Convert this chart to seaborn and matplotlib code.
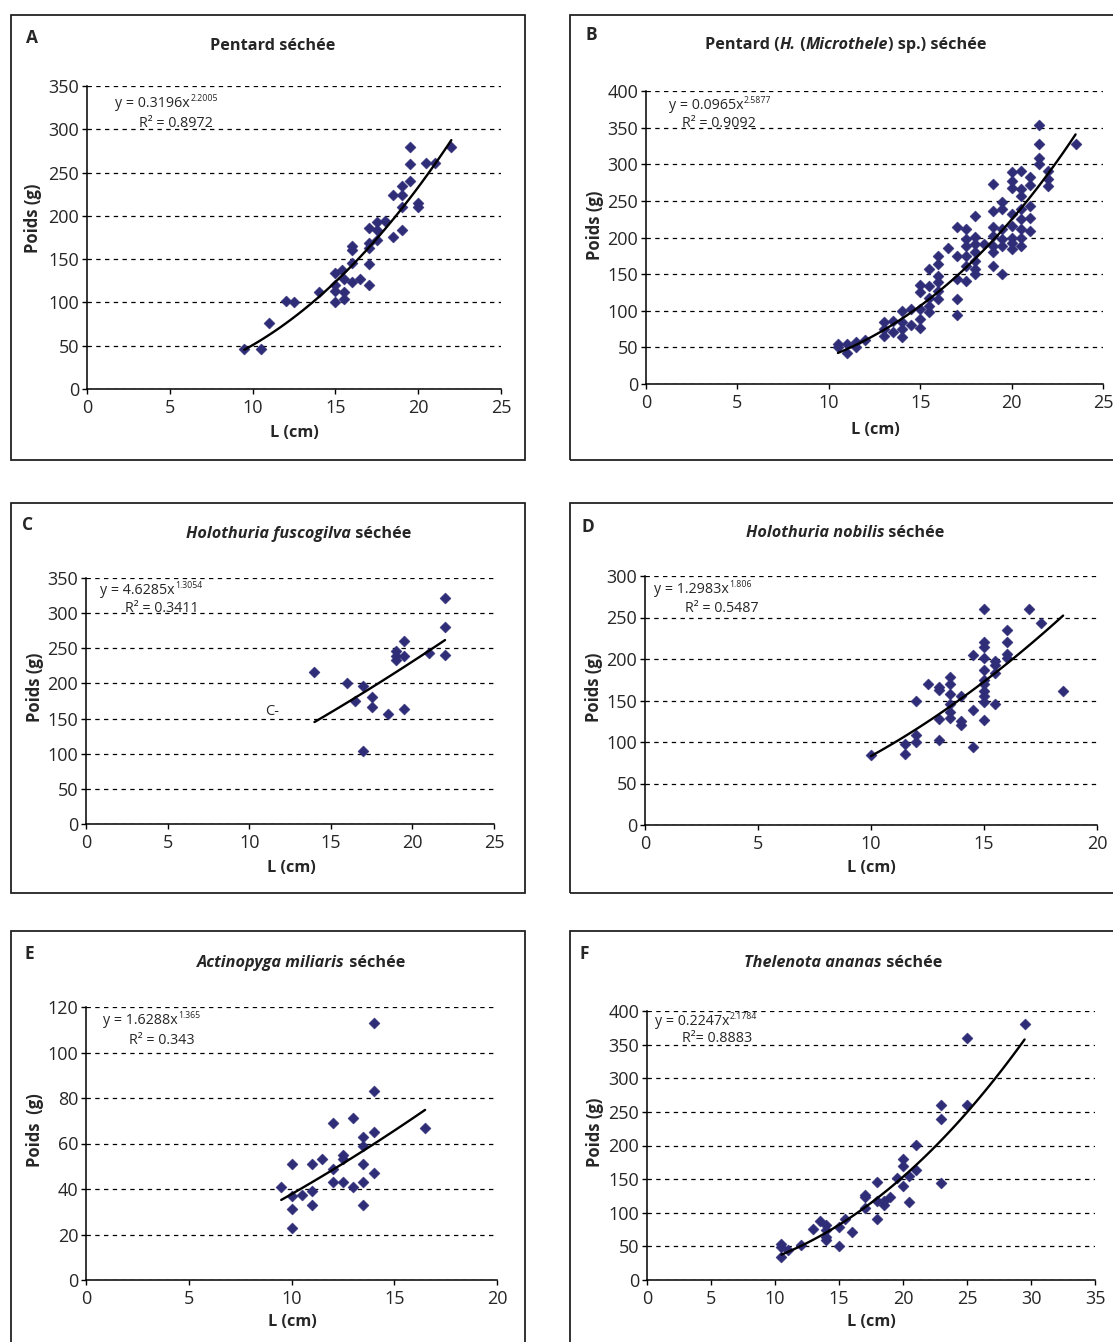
import numpy as np
import seaborn as sns
import matplotlib.pyplot as plt
from matplotlib.patches import Rectangle

# ---- data ----
a_x = [9.5, 10.5, 11, 12, 12.5, 14, 15, 15, 15, 15, 15.5, 15.5, 15.5, 15.4, 16, 16, 16, 16, 16.5,
       17, 17, 17, 17, 17, 17.5, 17.5, 17.5, 18, 18.5, 18.5, 19, 19, 19, 19, 19.5, 19.5, 19.5,
       20, 20, 20.5, 21, 22]
a_y = [46, 46, 76, 102, 100, 112, 100, 113, 120, 134, 104, 112, 127, 137, 124, 146, 161, 165, 127,
       120, 144, 163, 169, 186, 172, 184, 193, 194, 176, 224, 184, 210, 224, 235, 240, 260, 280,
       215, 210, 261, 261, 280]

b_x = [10.5, 10.5, 11, 11, 11.5, 11.5, 12, 13, 13, 13, 13.5, 13.5, 14, 14, 14, 14, 14.5, 14.5,
       15, 15, 15, 15, 15, 15.5, 15.5, 15.5, 15.5, 15.5, 16, 16, 16, 16, 16, 16, 16.5,
       17, 17, 17, 17, 17, 17.5, 17.5, 17.5, 17.5, 17.5, 17.5, 18, 18, 18, 18, 18, 18, 18, 18.5,
       19, 19, 19, 19, 19, 19, 19, 19.5, 19.5, 19.5, 19.5, 19.5, 19.5,
       20, 20, 20, 20, 20, 20, 20, 20, 20.5, 20.5, 20.5, 20.5, 20.5, 20.5, 20.5, 20.5,
       21, 21, 21, 21, 21, 21.5, 21.5, 21.5, 21.5, 22, 22, 22, 23.5]
b_y = [54, 50, 54, 43, 58, 50, 60, 84, 75, 65, 86, 71, 99, 84, 75, 64, 103, 80,
       135, 126, 102, 89, 77, 157, 134, 118, 107, 98, 175, 164, 148, 139, 127, 116, 186,
       215, 175, 143, 116, 94, 212, 198, 189, 175, 161, 141, 230, 201, 191, 180, 168, 157, 150, 191,
       273, 236, 214, 202, 189, 180, 161, 248, 239, 211, 198, 189, 150,
       289, 277, 268, 232, 216, 200, 193, 184, 291, 266, 257, 239, 225, 211, 200, 189,
       282, 271, 243, 227, 209, 353, 327, 309, 300, 291, 280, 270, 327]

c_x = [14, 16, 16.5, 17, 17, 17.5, 17.5, 18.5, 19, 19, 19, 19.5, 19.5, 19.5, 21, 22, 22, 22]
c_y = [216, 201, 175, 197, 104, 181, 166, 156, 246, 239, 234, 260, 239, 164, 243, 321, 280, 241]

d_x = [10, 11.5, 11.5, 12, 12, 12, 12.5, 13, 13, 13, 13, 13.5, 13.5, 13.5, 13.5, 13.5, 13.5,
       14, 14, 14, 14.5, 14.5, 14.5, 15, 15, 15, 15, 15, 15, 15, 15, 15, 15, 15,
       15.5, 15.5, 15.5, 15.5, 16, 16, 16, 16, 17, 17.5, 18.5]
d_y = [84, 98, 86, 150, 108, 100, 170, 166, 163, 128, 102, 178, 170, 158, 146, 136, 129,
       156, 125, 121, 205, 138, 94, 260, 221, 215, 201, 187, 175, 170, 162, 156, 148, 126,
       197, 193, 183, 146, 235, 220, 206, 201, 260, 243, 162]

e_x = [9.5, 10, 10, 10, 10, 10.5, 11, 11, 11, 11.5, 12, 12, 12, 12.5, 12.5, 12.5, 13, 13,
       13.5, 13.5, 13.5, 13.5, 13.5, 14, 14, 14, 14, 16.5]
e_y = [41, 51, 37, 31, 23, 37.5, 51, 39, 33, 53, 69, 49, 43, 55, 53, 43, 71, 41,
       63, 59, 51, 43, 33, 113, 83, 65, 47, 67]

f_x = [10.5, 10.5, 10.5, 11, 12, 13, 13.5, 14, 14, 14, 14, 15, 15, 15.5, 16, 17, 17, 17,
       18, 18, 18, 18.5, 18.5, 19, 19.5, 20, 20, 20, 20.5, 20.5, 21, 21, 23, 23, 23, 25, 25, 29.5]
f_y = [54, 49, 34, 44, 52, 76, 87, 82, 74, 64, 60, 79, 51, 91, 72, 127, 123, 107,
       146, 118, 90, 111, 118, 123, 151, 180, 170, 140, 155, 116, 201, 164, 260, 240, 144, 360, 260, 380]

# power fits printed on the charts: a, b, label of a, label of b, R² label
fits = {
    'A': (0.3196, 2.2005, '0.3196', '2.2005', 'R² = 0.8972'),
    'B': (0.0965, 2.5877, '0.0965', '2.5877', 'R² = 0.9092'),
    'C': (4.6285, 1.3054, '4.6285', '1.3054', 'R² = 0.3411'),
    'D': (1.2983, 1.806, '1.2983', '1.806', 'R² = 0.5487'),
    'E': (1.6288, 1.365, '1.6288', '1.365', 'R² = 0.343'),
    'F': (0.2247, 2.1784, '0.2247', '2.1784', 'R²= 0.8883'),
}

titles = {
    'A': [('Pentard séchée', 'normal')],
    'B': [('Pentard (', 'normal'), ('H.', 'italic'), (' (', 'normal'),
          ('Microthele', 'italic'), (') sp.) séchée', 'normal')],
    'C': [('Holothuria fuscogilva', 'italic'), (' séchée', 'normal')],
    'D': [('Holothuria nobilis', 'italic'), (' séchée', 'normal')],
    'E': [('Actinopyga miliaris', 'italic'), (' séchée', 'normal')],
    'F': [('Thelenota ananas', 'italic'), (' séchée', 'normal')],
}

data = {'A': (a_x, a_y), 'B': (b_x, b_y), 'C': (c_x, c_y),
        'D': (d_x, d_y), 'E': (e_x, e_y), 'F': (f_x, f_y)}

# ---- layout (pixels of the 1113x1342 picture) ----
W, H = 1113, 1342
layout = {
    'A': dict(ax=(87, 501, 86, 389), lim=(25, 350, 50), box=(11, 15, 525, 460), title=(273, 46),
              letter=(32, 38), eq=(115, 107), r2=(139, 127), yl=(33, 218), xl=(294, 433)),
    'B': dict(ax=(646, 1103, 91, 384), lim=(25, 400, 50), box=(570, 15, 1125, 460), title=(846, 45),
              letter=(591, 35), eq=(669, 109), r2=(682, 127), yl=(595, 225), xl=(875, 430)),
    'C': dict(ax=(86, 494, 578, 824), lim=(25, 350, 50), box=(11, 503, 525, 893), title=(299, 534),
              letter=(28, 525), eq=(100, 594), r2=(125, 612), yl=(35, 687), xl=(291, 868)),
    'D': dict(ax=(645, 1097, 576, 825), lim=(20, 300, 50), box=(570, 503, 1125, 893), title=(845, 533),
              letter=(588, 527), eq=(654, 593), r2=(685, 612), yl=(594, 687), xl=(871, 868)),
    'E': dict(ax=(86, 497, 1007, 1280), lim=(20, 120, 20), box=(11, 931, 525, 1350), title=(301, 963),
              letter=(29, 954), eq=(103, 1024), r2=(129, 1044), yl=(35, 1130), xl=(292, 1322)),
    'F': dict(ax=(647, 1095, 1011, 1280), lim=(35, 400, 50), box=(570, 931, 1125, 1350), title=(843, 963),
              letter=(584, 954), eq=(655, 1025), r2=(682, 1042), yl=(595, 1132), xl=(871, 1322)),
}

sns.set_theme(style='white')
plt.rcParams['font.family'] = ['Open Sans', 'DejaVu Sans']

fig = plt.figure(figsize=(W / 100, H / 100), dpi=100)
fig.patch.set_facecolor('white')
renderer = fig.canvas.get_renderer()


def fx(x):
    return x / W


def fy(y):
    return 1 - y / H


marker_col = '#2f2d78'
eq_size = 10.3

for key, lay in layout.items():
    l, r, t, b = lay['ax']
    ax = fig.add_axes([fx(l), fy(b), (r - l) / W, (b - t) / H])
    xmax, ymax, ystep = lay['lim']
    xs, ys = data[key]
    sns.scatterplot(x=xs, y=ys, ax=ax, marker='D', s=32, color=marker_col,
                    edgecolor=marker_col, linewidth=0.3, zorder=3)
    a, bexp, a_txt, b_txt, r2_txt = fits[key]
    xl = np.linspace(min(xs), max(xs), 100)
    sns.lineplot(x=xl, y=a * xl ** bexp, ax=ax, color='black', linewidth=1.7, zorder=4,
                 errorbar=None, sort=False)
    ax.set_xlim(0, xmax)
    ax.set_ylim(0, ymax)
    ax.set_xticks(np.arange(0, xmax + 1, 5))
    ax.set_yticks(np.arange(0, ymax + 1, ystep))
    ax.set_facecolor('none')
    ax.yaxis.grid(True, linestyle=(0, (3.5, 3.5)), color='black', linewidth=0.9)
    ax.xaxis.grid(False)
    for s in ['top', 'right']:
        ax.spines[s].set_visible(False)
    for s in ['left', 'bottom']:
        ax.spines[s].set_color('black')
        ax.spines[s].set_linewidth(1.1)
    ax.tick_params(direction='out', length=3.5, width=1, color='black', labelsize=13,
                   left=True, bottom=True)
    ax.tick_params(axis='x', pad=4)
    ax.tick_params(axis='y', pad=2)
    ax.set_xlabel('')
    ax.set_ylabel('')

    # box around the panel
    bx0, by0, bx1, by1 = lay['box']
    fig.patches.append(Rectangle((fx(bx0), fy(by1)), (bx1 - bx0) / W, (by1 - by0) / H,
                                 transform=fig.transFigure, fill=False,
                                 edgecolor='#222222', linewidth=1.3))

    fig.text(fx(lay['letter'][0]), fy(lay['letter'][1]), key, fontsize=12.5,
             fontweight='bold', ha='center', va='center')

    # equation with a small exponent, then the R² line
    ex, ey = lay['eq']
    base = fig.text(fx(ex), fy(ey), 'y = ' + a_txt + 'x', fontsize=eq_size,
                    ha='left', va='baseline')
    bw = base.get_window_extent(renderer).width
    fig.text(fx(ex + bw + 0.5), fy(ey - 6), b_txt, fontsize=6.3, ha='left', va='baseline')
    fig.text(fx(lay['r2'][0]), fy(lay['r2'][1]), r2_txt, fontsize=eq_size,
             ha='left', va='baseline')

    ylab = 'Poids  (g)' if key == 'E' else 'Poids (g)'
    fig.text(fx(lay['yl'][0]), fy(lay['yl'][1]), ylab, fontsize=12, fontweight='bold',
             rotation=90, ha='center', va='center')
    fig.text(fx(lay['xl'][0]), fy(lay['xl'][1]), 'L (cm)', fontsize=11.7, fontweight='bold',
             ha='center', va='center')

    if key == 'C':
        ax.text(11.0, 160, 'C-', fontsize=10.5, ha='left', va='center')

# titles built from bold pieces, some italic, centred on the reference position
for key, pieces in titles.items():
    cx, cy = layout[key]['title']
    txts = [fig.text(0, fy(cy), s, fontsize=11.7, fontweight='bold', fontstyle=st,
                     ha='left', va='center') for s, st in pieces]
    widths = [tt.get_window_extent(renderer).width for tt in txts]
    xpos = cx - sum(widths) / 2
    for tt, w in zip(txts, widths):
        tt.set_x(fx(xpos))
        xpos += w

fig.savefig('out.png', dpi=100)
